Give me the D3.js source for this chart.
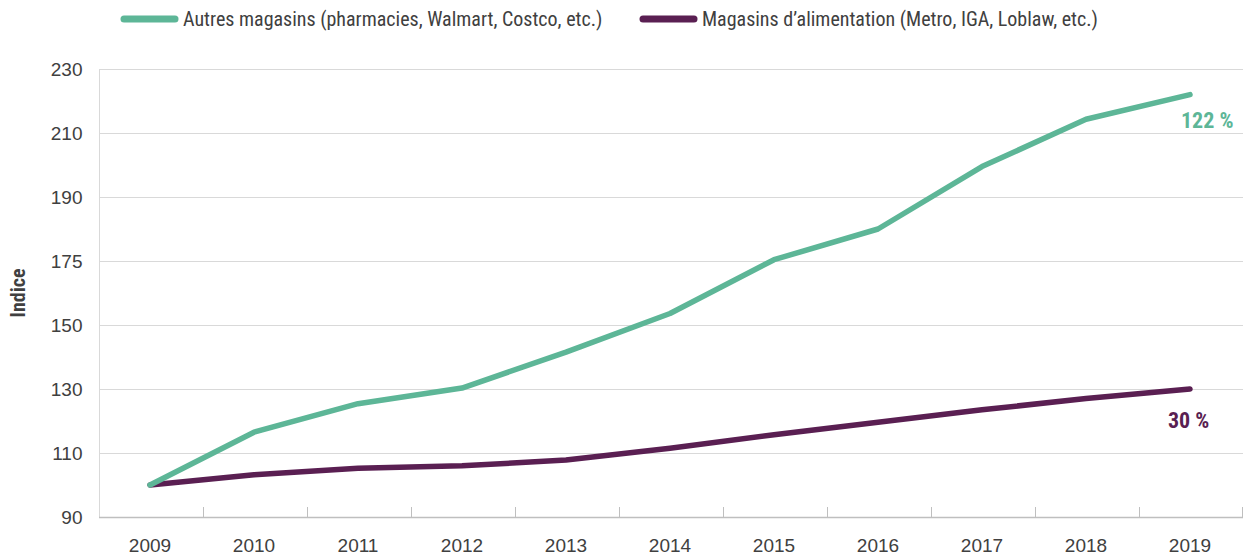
<!DOCTYPE html>
<html lang="fr">
<head>
<meta charset="utf-8">
<script src="https://cdn.jsdelivr.net/npm/d3@7"></script>
<style>
  html, body { margin: 0; padding: 0; background: #fff; }
  svg { display: block; font-family: "Liberation Sans Narrow", "Roboto Condensed", "DejaVu Sans Condensed", "Liberation Sans", sans-serif; }
</style>
</head>
<body>
<svg id="chart" width="1243" height="556"></svg>
<script>
// Années (catégories de l'axe horizontal)
const years = ["2009", "2010", "2011", "2012", "2013", "2014", "2015", "2016", "2017", "2018", "2019"];

// Indice (2009 = 100)
const autresMagasins = [100, 116.5, 125.4, 130.3, 141.5, 153.6, 170.4, 180, 199.5, 214.3, 222];
const magasinsAlimentation = [100, 103.2, 105.2, 106, 107.8, 111.5, 115.7, 119.6, 123.5, 127, 130];

// Graduations de l'axe vertical et leurs libellés
const yTicks = [90, 110, 130, 150, 170, 190, 210, 230];
const yTickLabels = ["90", "110", "130", "150", "175", "190", "210", "230"];

const seriesNames = ["Autres magasins (pharmacies, Walmart, Costco, etc.)", "Magasins d’alimentation (Metro, IGA, Loblaw, etc.)"];
const endLabels = ["122 %", "30 %"];

const colors = ["#5db697", "#5a1f52"];
const series = [autresMagasins, magasinsAlimentation];

const svg = d3.select("#chart");
const plotLeft = 99, plotRight = 1243, plotTop = 69, plotBottom = 517;

const x = d3.scaleBand().domain(years).range([plotLeft - 1, plotRight - 1]);
const y = d3.scaleLinear().domain([90, 230]).range([plotBottom, plotTop]);
const cx = d => x(d) + x.bandwidth() / 2;

// Quadrillage horizontal
svg.append("g")
  .selectAll("line")
  .data(yTicks.filter(t => t !== 90))
  .join("line")
  .attr("x1", plotLeft).attr("x2", plotRight)
  .attr("y1", d => Math.round(y(d)) + 0.5).attr("y2", d => Math.round(y(d)) + 0.5)
  .attr("stroke", "#d9d9d9").attr("stroke-width", 1);

// Axe vertical
const yAxis = svg.append("g")
  .attr("transform", `translate(${plotLeft + 0.5},0)`)
  .call(d3.axisLeft(y).tickValues(yTicks).tickSize(0).tickPadding(17)
    .tickFormat((d, i) => yTickLabels[i]));
yAxis.select(".domain").attr("stroke", "#d9d9d9").attr("d", `M0,${plotTop}V${plotBottom}`);
yAxis.selectAll("text")
  .attr("fill", "#404040").attr("font-size", 19)
  .attr("font-family", "inherit");

// Axe horizontal
const xAxis = svg.append("g")
  .attr("transform", `translate(0,${plotBottom + 0.5})`)
  .call(d3.axisBottom(x).tickSize(0).tickPadding(21));
xAxis.select(".domain").attr("stroke", "#bfbfbf").attr("stroke-width", 1.5).attr("d", `M${plotLeft},0H${plotRight}`);
xAxis.selectAll("text")
  .attr("fill", "#404040").attr("font-size", 19)
  .attr("font-family", "inherit");

// Petits repères entre les années
svg.append("g")
  .selectAll("line")
  .data(years.slice(1).concat(["end"]))
  .join("line")
  .attr("x1", d => d === "end" ? plotRight - 0.5 : Math.round(x(d)) + 1.5)
  .attr("x2", d => d === "end" ? plotRight - 0.5 : Math.round(x(d)) + 1.5)
  .attr("y1", plotBottom).attr("y2", plotBottom - 10)
  .attr("stroke", "#bfbfbf").attr("stroke-width", 1);

// Titre de l'axe vertical
svg.append("text")
  .attr("transform", `translate(25,${(plotTop + plotBottom) / 2}) rotate(-90)`)
  .attr("text-anchor", "middle")
  .attr("font-weight", "bold").attr("font-size", 20)
  .attr("fill", "#404040")
  .text("Indice");

// Courbes
const line = d3.line()
  .x((d, i) => cx(years[i]))
  .y(d => y(d));

svg.append("g")
  .selectAll("path")
  .data([series[1], series[0]])
  .join("path")
  .attr("d", line)
  .attr("fill", "none")
  .attr("stroke", (d, i) => colors[1 - i])
  .attr("stroke-width", 5.5)
  .attr("stroke-linejoin", "round")
  .attr("stroke-linecap", "round");

// Variations 2009-2019 en fin de courbe
const last = years[years.length - 1];
svg.append("text")
  .attr("x", cx(last) - 9).attr("y", y(autresMagasins[10]) + 33)
  .attr("font-weight", "bold").attr("font-size", 22)
  .attr("fill", colors[0])
  .text(endLabels[0]);
svg.append("text")
  .attr("x", cx(last) - 22).attr("y", y(magasinsAlimentation[10]) + 39)
  .attr("font-weight", "bold").attr("font-size", 22)
  .attr("fill", colors[1])
  .text(endLabels[1]);

// Légende
const legendItems = [
  { x: 121, name: seriesNames[0], color: colors[0] },
  { x: 640, name: seriesNames[1], color: colors[1] }
];
const lg = svg.append("g").selectAll("g").data(legendItems).join("g")
  .attr("transform", d => `translate(${d.x},19)`);
lg.append("line")
  .attr("x1", 3).attr("x2", 54).attr("y1", 0).attr("y2", 0)
  .attr("stroke", d => d.color).attr("stroke-width", 7).attr("stroke-linecap", "round");
lg.append("text")
  .attr("x", 62).attr("y", 7)
  .attr("font-size", 20).attr("fill", "#404040")
  .text(d => d.name);
</script>
</body>
</html>
